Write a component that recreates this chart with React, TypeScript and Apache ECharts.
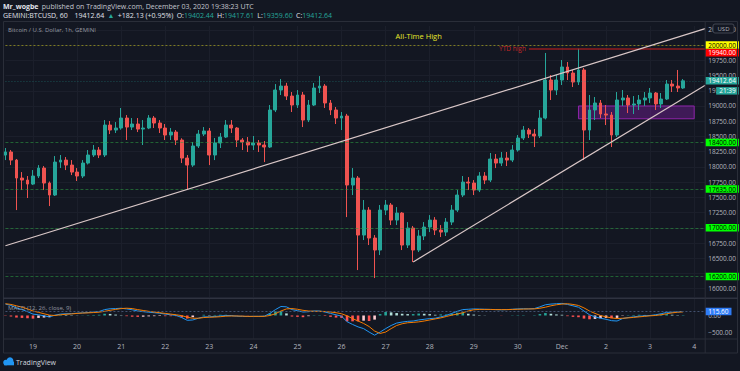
import React, { useEffect, useRef } from 'react';
import * as echarts from 'echarts';

// ---------- data (3-hour candles) ----------
const START_UTC = Date.UTC(2020, 10, 18, 9);
const STEP_HOURS = 3;
const CATEGORY_COUNT = 128;

const opens = [18195,18244,18112,17817,17784,17718,17850,17981,17735,17538,
 18079,18112,18030,17915,17850,18063,18195,18277,18195,18687,
 18605,18638,18802,18654,18704,18621,18638,18802,18720,18638,
 18523,18572,18441,18145,18030,18343,18539,18589,18195,18392,
 18490,18687,18638,18441,18408,18359,18392,18359,18326,18934,
 19262,19327,19163,19016,19180,18769,19016,19295,19327,19049,
 18934,18802,18835,17702,17817,16881,17291,16832,16635,17291,
 17374,17127,17242,16717,16996,16635,16865,17012,17127,16963,
 16930,17094,17291,17538,17751,17735,17620,17850,17784,18129,
 18063,18145,18112,18277,18474,18605,18539,18507,18802,19426,
 19262,19426,19640,19541,19393,19591,18605,18934,19049,18868,
 18851,18523,19098,19131,19016,19033,19098,19131,19213,19033,
 19114,19360,19327,19295];

const closes = [18244,18112,17817,17784,17718,17850,17981,17735,17538,18079,
 18112,18030,17915,17850,18063,18195,18277,18195,18687,18605,
 18638,18802,18654,18704,18621,18638,18802,18720,18638,18523,
 18572,18441,18145,18030,18343,18539,18589,18195,18392,18490,
 18687,18638,18441,18408,18359,18392,18359,18326,18934,19262,
 19327,19163,19016,19180,18769,19016,19295,19327,19049,18934,
 18802,18835,17702,17817,16881,17291,16832,16635,17291,17374,
 17127,17242,16717,16996,16635,16865,17012,17127,16963,16930,
 17094,17291,17538,17751,17735,17620,17850,17784,18129,18063,
 18145,18112,18277,18474,18605,18539,18507,18802,19426,19262,
 19426,19640,19541,19393,19591,18605,18934,19049,18868,18851,
 18523,19098,19131,19016,19033,19098,19131,19213,19033,19114,
 19360,19327,19295,19412.64];

const highs = [18310,18277,18130,17915,17850,17948,18030,18014,17760,18178,
 18195,18162,18112,17981,18112,18277,18359,18326,18769,18753,
 18736,18967,18851,18802,18802,18769,18851,18835,18769,18704,
 18638,18605,18470,18195,18408,18605,18654,18638,18474,18556,
 18769,18769,18654,18474,18490,18507,18441,18425,19016,19360,
 19442,19380,19229,19262,19230,19098,19377,19491,19360,19098,
 18983,18901,18870,17981,17850,17456,17340,16881,17374,17456,
 17407,17341,17258,17094,17030,16963,17094,17209,17176,17045,
 17160,17374,17620,17850,17833,17784,17915,17915,18228,18211,
 18244,18244,18359,18523,18671,18638,18621,18934,19870,19508,
 19508,19755,19722,19591,19940,19624,19180,19147,19098,19016,
 18901,19229,19262,19180,19163,19180,19229,19295,19229,19213,
 19426,19426,19591,19442];

const lows = [18112,18030,17291,17620,17489,17702,17817,17620,17357,17522,
 17981,17948,17866,17768,17817,18040,18162,18145,18162,18539,
 18556,18610,18441,18605,18572,18359,18620,18638,18556,18441,
 18441,18359,18063,17620,18000,18310,18507,18030,18112,18310,
 18474,18556,18326,18277,18244,18277,18244,18079,18310,18900,
 19180,19098,18901,18967,18654,18736,19000,19213,18967,18851,
 18704,18605,17176,17538,16306,16799,16717,16175,16553,17209,
 17045,17045,16635,16668,16438,16602,16799,16930,16881,16848,
 16865,17045,17260,17505,17620,17538,17587,17718,17751,17981,
 18014,18014,18079,18250,18441,18474,18326,18474,18780,19098,
 19180,19344,19426,19311,19344,18112,18441,18769,18802,18687,
 18326,18490,19000,18884,18868,18934,19000,19049,18934,18967,
 19098,19229,19229,19280];

const macdLine = [330,290,220,170,110,40,20,-10,-40,10,
 40,50,55,65,75,85,100,115,170,195,
 200,210,190,165,130,110,95,80,65,40,
 20,0,-60,-140,-130,-80,-40,-40,-30,-15,
 0,-5,-20,-25,-30,-25,-25,-20,60,170,
 260,250,170,140,100,110,130,130,100,60,
 20,-20,-180,-260,-330,-380,-480,-570,-480,-380,
 -290,-220,-190,-170,-160,-130,-110,-90,-80,-40,
 0,60,120,170,180,190,185,180,175,170,
 165,170,180,190,195,190,200,250,310,330,
 340,350,320,280,240,130,20,-40,-80,-110,
 -150,-160,-90,-60,-40,-20,-10,0,20,50,
 90,95,105,115.6];

const signalLine = [340,320,280,240,190,130,90,50,10,0,
 20,35,45,60,70,75,85,95,120,150,
 175,200,210,200,170,145,120,100,80,60,
 40,20,-5,-50,-80,-80,-60,-50,-45,-35,
 -20,-15,-15,-20,-25,-25,-25,-25,0,50,
 130,190,200,180,150,130,120,120,115,100,
 80,50,-10,-90,-160,-230,-320,-450,-520,-480,
 -380,-290,-240,-210,-200,-185,-160,-130,-100,-70,
 -30,10,40,80,130,165,175,175,175,170,
 170,170,175,180,185,190,190,210,240,280,
 310,330,340,320,290,220,130,60,0,-40,
 -70,-90,-80,-70,-55,-40,-25,-10,0,20,
 50,75,95,105];

const gridTicks = [16000,16250,16500,16750,17000,17250,17500,17750,18000,18250,18500,18750,19000,19250,19500,19750,20000,20250];
// axis labels (those hidden right behind the level tags are left out)
const priceLabels = [16000,16500,16750,17250,17500,17750,18000,18250,18500,18750,19000,19250,19500,19750,20250];
const macdTicks = [0, -500];
const supportLevels = [18400, 17635, 17000, 16200];
const allTimeHigh = 20000;
const ytdHigh = 19940;
const lastPrice = 19412.64;
const lastMacd = 115.6;
const countdown = '21:39';
// trendlines / zone: [categoryIndex, price]
const upperTrend = [[0, 16705], [127, 20270]];
const lowerTrend = [[74, 16440], [127, 19340]];
const demandZone = [[104, 19000], [125, 18790]];
const ytdLineStart = 95;
const athLabelAt = 75;

// ---------- helpers ----------
const categories = Array.from({ length: CATEGORY_COUNT }, (_, i) => {
  const d = new Date(START_UTC + i * STEP_HOURS * 3600000);
  return `${d.getUTCMonth() + 1}-${d.getUTCDate()} ${String(d.getUTCHours()).padStart(2, '0')}`;
});
const isDay = (_i: number, v: string) => v.endsWith(' 00');
const dayLabel = (v: string) => {
  if (!v.endsWith(' 00')) return '';
  const [md] = v.split(' ');
  const [m, d] = md.split('-');
  return d === '1' && m === '12' ? 'Dec' : d;
};

const FONT = '"Open Sans", "Noto Sans", sans-serif';
const BG = '#131722';
const AXIS_TEXT = '#b2b5be';
const GRID_LINE = '#1b1f2b';
const BORDER = '#2a2e39';
const UP = '#26a69a';
const DOWN = '#ef5350';

const tag = (text: string, bg: string, fg: string, dy = 0, dist = 0) => ({
  show: true,
  position: 'end',
  formatter: text,
  backgroundColor: bg,
  color: fg,
  fontSize: 6.5,
  lineHeight: 7.5,
  fontFamily: FONT,
  padding: [0, 3, 0, 3],
  distance: dist,
  offset: [0, dy],
});

export default function App() {
  const ref = useRef<HTMLDivElement>(null);
  useEffect(() => {
    if (!ref.current) return;
    const chart = echarts.init(ref.current, undefined, { renderer: 'svg' });

    const candles = closes.map((c, i) => [opens[i], c, lows[i], highs[i]]);
    const hist = macdLine.map((m, i) => +(m - signalLine[i]).toFixed(2));
    const histData = hist.map((h, i) => {
      const prev = i > 0 ? hist[i - 1] : h;
      let color;
      if (h >= 0) color = h >= prev ? '#26a69a' : '#b2dfdb';
      else color = h <= prev ? '#ff5252' : '#ffcdd2';
      return { value: h, itemStyle: { color } };
    });

    const option: any = {
      backgroundColor: BG,
      animation: false,
      textStyle: { fontFamily: FONT },
      grid: [
        { left: 5.44, right: 34.8, top: 26, height: 271 },
        { left: 5.44, right: 34.8, top: 299, height: 39.7 },
      ],
      xAxis: [
        {
          type: 'category', gridIndex: 0, data: categories, boundaryGap: false,
          axisLine: { show: false }, axisTick: { show: false }, axisLabel: { show: false },
          splitLine: { show: true, interval: isDay, lineStyle: { color: GRID_LINE, width: 1 } },
        },
        {
          type: 'category', gridIndex: 1, data: categories, boundaryGap: false,
          axisLine: { show: false }, axisTick: { show: false },
          axisLabel: { show: true, interval: isDay, formatter: dayLabel, color: AXIS_TEXT, fontSize: 7, margin: 4, fontFamily: FONT },
          splitLine: { show: true, interval: isDay, lineStyle: { color: GRID_LINE, width: 1 } },
        },
      ],
      yAxis: [
        {
          type: 'value', gridIndex: 0, position: 'right', min: 15864, max: 20313,
          axisLine: { show: false },
          axisTick: { show: false, customValues: gridTicks },
          axisLabel: { customValues: priceLabels, formatter: (v: number) => v.toFixed(2), color: AXIS_TEXT, fontSize: 6.5, margin: 3, fontFamily: FONT },
          splitLine: { show: true, lineStyle: { color: GRID_LINE, width: 1 } },
        },
        {
          type: 'value', gridIndex: 1, position: 'right', min: -672, max: 477,
          axisLine: { show: false },
          axisTick: { show: false, customValues: macdTicks },
          axisLabel: { customValues: macdTicks, formatter: (v: number) => (v < 0 ? '\u2212' + Math.abs(v).toFixed(2) : v.toFixed(2)), color: AXIS_TEXT, fontSize: 6.5, margin: 3, fontFamily: FONT },
          splitLine: { show: false },
        },
      ],
      series: [
        {
          type: 'candlestick', xAxisIndex: 0, yAxisIndex: 0, data: candles, barWidth: 3.4, z: 3,
          itemStyle: { color: UP, color0: DOWN, borderColor: UP, borderColor0: DOWN, borderWidth: 1 },
          markArea: {
            silent: true,
            data: [[
              { coord: [categories[demandZone[0][0]], demandZone[0][1]], itemStyle: { color: 'rgba(123, 31, 162, 0.42)', borderColor: '#8e24aa', borderWidth: 1 } },
              { coord: [categories[demandZone[1][0]], demandZone[1][1]] },
            ]],
          },
          markPoint: {
            silent: true,
            data: [{
              coord: [categories[athLabelAt], allTimeHigh], symbol: 'circle', symbolSize: 0,
              label: { show: true, position: 'inside', formatter: 'All-Time High', color: '#e8e82a', fontSize: 7.5, offset: [0, -9], fontFamily: FONT },
            }],
          },
          markLine: {
            silent: true, symbol: ['none', 'none'], animation: false,
            data: [
              { yAxis: allTimeHigh, lineStyle: { color: '#7d7b22', type: [2, 2], width: 1 }, label: tag(allTimeHigh.toFixed(2), '#ffff00', '#000') },
              { yAxis: ytdHigh, lineStyle: { color: 'rgba(0,0,0,0)', width: 0.1 }, label: tag(ytdHigh.toFixed(2), '#ff0000', '#fff', 4) },
              [
                { coord: [categories[ytdLineStart], ytdHigh], lineStyle: { color: 'rgba(190, 30, 30, 0.55)', width: 2, type: 'solid' },
                  label: { show: true, position: 'start', formatter: 'YTD high', color: '#c62828', fontSize: 6.5, distance: 3, fontFamily: FONT } },
                { coord: [categories[CATEGORY_COUNT - 1], ytdHigh] },
              ],
              ...supportLevels.map((v) => ({ yAxis: v, lineStyle: { color: 'rgba(46, 160, 67, 0.55)', type: [3, 2], width: 1 }, label: tag(v.toFixed(2), '#00ff00', '#000') })),
              { yAxis: lastPrice, lineStyle: { color: 'rgba(38, 166, 154, 0.4)', type: [1, 2], width: 1 }, label: tag(lastPrice.toFixed(2), UP, '#fff') },
              { yAxis: lastPrice, lineStyle: { color: 'rgba(0,0,0,0)', width: 0.1 }, label: tag(countdown, UP, '#fff', 10, 11) },
              [
                { coord: [categories[upperTrend[0][0]], upperTrend[0][1]], lineStyle: { color: '#d9c7c7', width: 1.2, type: 'solid' }, label: { show: false } },
                { coord: [categories[upperTrend[1][0]], upperTrend[1][1]] },
              ],
              [
                { coord: [categories[lowerTrend[0][0]], lowerTrend[0][1]], lineStyle: { color: '#d9c7c7', width: 1.2, type: 'solid' }, label: { show: false } },
                { coord: [categories[lowerTrend[1][0]], lowerTrend[1][1]] },
              ],
            ],
          },
        },
        {
          type: 'bar', xAxisIndex: 1, yAxisIndex: 1, data: histData, barWidth: 2.6, silent: true,
        },
        {
          type: 'line', xAxisIndex: 1, yAxisIndex: 1, data: macdLine, symbol: 'none', silent: true,
          lineStyle: { color: '#2196f3', width: 1 },
          markLine: {
            silent: true, symbol: ['none', 'none'],
            data: [{ yAxis: lastMacd, lineStyle: { color: '#42506e', type: [2, 2], width: 1 }, label: tag(lastMacd.toFixed(2), '#2f7cf6', '#fff') }],
          },
        },
        {
          type: 'line', xAxisIndex: 1, yAxisIndex: 1, data: signalLine, symbol: 'none', silent: true,
          lineStyle: { color: '#f57c00', width: 1 },
        },
      ],
      graphic: [
        { type: 'rect', silent: true, z: 50, shape: { x: 3.5, y: 21.5, width: 734, height: 331.5 }, style: { fill: 'none', stroke: BORDER, lineWidth: 1 } },
        { type: 'line', silent: true, z: 50, shape: { x1: 3, y1: 298.3, x2: 738, y2: 298.3 }, style: { stroke: '#2f3340', lineWidth: 1.6 } },
        { type: 'line', silent: true, z: 50, shape: { x1: 3, y1: 339, x2: 738, y2: 339 }, style: { stroke: BORDER, lineWidth: 1 } },
        { type: 'line', silent: true, z: 50, shape: { x1: 705.2, y1: 21, x2: 705.2, y2: 353 }, style: { stroke: BORDER, lineWidth: 1 } },
        {
          type: 'text', silent: true, z: 50, x: 3, y: 6,
          style: {
            text: '{b|Mr_wogbe} {n|published on TradingView.com, December 03, 2020 19:38:23 UTC}',
            verticalAlign: 'middle', align: 'left',
            rich: {
              b: { fill: '#e0e3eb', fontSize: 7, fontWeight: 'bold', fontFamily: FONT },
              n: { fill: '#c3c6ce', fontSize: 7, fontFamily: FONT },
            },
          },
        },
        {
          type: 'text', silent: true, z: 50, x: 3, y: 15.5,
          style: {
            text: `{w|GEMINI:BTCUSD, 60}  {w|${lastPrice.toFixed(2)}} {t|\u25B2} {w|+182.13 (+0.95%)} {w|O:}{t|19402.44} {w|H:}{t|19417.61} {w|L:}{t|19359.60} {w|C:}{t|${lastPrice.toFixed(2)}}`,
            verticalAlign: 'middle', align: 'left',
            rich: {
              w: { fill: '#e0e3eb', fontSize: 7, fontFamily: FONT },
              t: { fill: UP, fontSize: 7, fontFamily: FONT },
            },
          },
        },
        { type: 'text', silent: true, z: 50, x: 8, y: 29.5, style: { text: 'Bitcoin / U.S. Dollar, 1h, GEMINI', fill: '#9598a1', fontSize: 6, fontFamily: FONT, verticalAlign: 'middle' } },
        { type: 'text', silent: true, z: 50, x: 8, y: 307.5, style: { text: 'MACD (12, 26, close, 9)', fill: '#9598a1', fontSize: 6, fontFamily: FONT, verticalAlign: 'middle' } },
        { type: 'rect', silent: true, z: 100, shape: { x: 713, y: 24, width: 21, height: 9, r: 2 }, style: { fill: BG, stroke: '#434651', lineWidth: 1 } },
        { type: 'text', silent: true, z: 101, x: 723.5, y: 28.5, style: { text: 'USD', fill: AXIS_TEXT, fontSize: 6, fontFamily: FONT, align: 'center', verticalAlign: 'middle' } },
        { type: 'circle', silent: true, z: 50, shape: { cx: 6, cy: 362.5, r: 2.8 }, style: { fill: '#2196f3' } },
        { type: 'circle', silent: true, z: 50, shape: { cx: 10, cy: 360.8, r: 3.4 }, style: { fill: '#2196f3' } },
        { type: 'rect', silent: true, z: 50, shape: { x: 4, y: 361.5, width: 10, height: 3.8 }, style: { fill: '#2196f3' } },
        { type: 'text', silent: true, z: 50, x: 16, y: 362.5, style: { text: 'TradingView', fill: '#d1d4dc', fontSize: 7, fontFamily: FONT, verticalAlign: 'middle' } },
      ],
    };

    chart.setOption(option);
    return () => chart.dispose();
  }, []);

  return <div ref={ref} style={{ position: 'fixed', left: 0, top: 0, width: 740, height: 371, background: BG }} />;
}
